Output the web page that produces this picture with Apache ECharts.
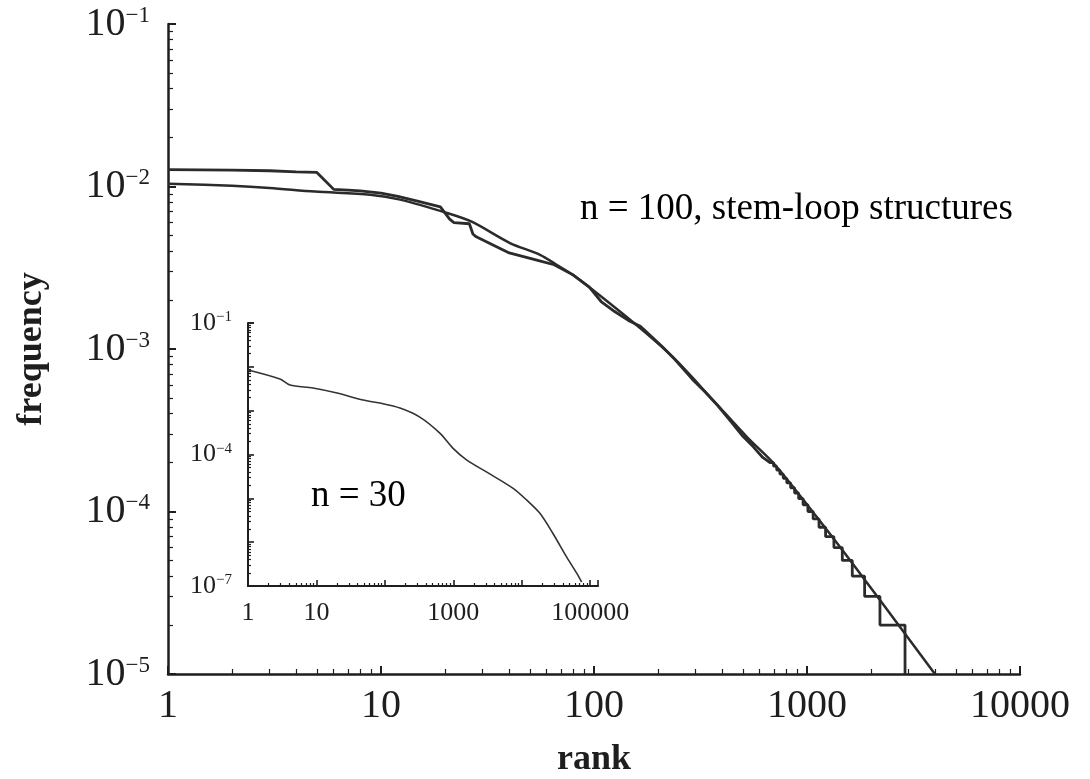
<!DOCTYPE html>
<html><head><meta charset="utf-8">
<script src="https://cdn.jsdelivr.net/npm/echarts@6/dist/echarts.min.js"></script>
<style>html,body{margin:0;padding:0;background:#fff}#c{width:1090px;height:779px}</style>
</head><body><div id="c"></div>
<script>
// ---------- data ----------
const mainXLabels = [1, 10, 100, 1000, 10000];
const mainYExponents = [-5, -4, -3, -2, -1];
const insetXLabels = [1, 10, 1000, 100000];
const insetYExponents = [-7, -4, -1];

const mainAnnotation = 'n = 100, stem-loop structures';
const insetAnnotation = 'n = 30';
const xName = 'rank';
const yName = 'frequency';

// smooth fitted curve (n = 100)
const fitRank = [1, 2, 3, 4.9, 8.9, 12.3, 20.4, 26.8, 40.3, 55.8, 67, 79.7, 103, 164, 235, 362, 523, 692, 859, 1429, 2200, 3860, 4000];
const fitFreq = [0.0104, 0.0101, 0.0098, 0.0093, 0.0089, 0.0083, 0.00687, 0.00605, 0.00449, 0.0038, 0.00329, 0.00285, 0.00221, 0.00135, 8.9e-4, 4.85e-4, 2.87e-4, 2.0e-4, 1.42e-4, 6.05e-5, 2.85e-5, 1.06e-5, 1.0e-5];

// measured rank-frequency data (n = 100)
const dataRank = [1, 2, 3, 4, 5, 6, 7, 8, 10, 12, 15, 19, 21, 22, 26, 27, 28,
  40, 55, 65, 80, 95, 108, 125, 145, 165, 185, 210, 240, 290, 330, 380, 430, 500, 560, 620, 670,
  696, 697, 720, 721, 745, 746, 773, 774, 803, 804, 837, 838, 874, 875, 913, 914, 958, 959,
  1009, 1010, 1068, 1069, 1138, 1139, 1222, 1223, 1337, 1338, 1464, 1465, 1631, 1632,
  1864, 1865, 2200, 2201, 2885, 2886];
const dataFreq = [0.0127, 0.0126, 0.0125, 0.0123, 0.0122, 0.0096, 0.0095, 0.0094, 0.0091, 0.0087, 0.0081, 0.0075, 0.0063, 0.0060, 0.0059, 0.0051, 0.0049,
  0.0039, 0.0035, 0.0033, 0.00285, 0.0024, 0.00196, 0.0017, 0.0015, 0.00138, 0.0012, 0.00103, 8.6e-4, 6.5e-4, 5.5e-4, 4.5e-4, 3.7e-4, 2.9e-4, 2.5e-4, 2.15e-4, 2.0e-4,
  2.0e-4, 1.9e-4, 1.9e-4, 1.8e-4, 1.8e-4, 1.7e-4, 1.7e-4, 1.6e-4, 1.6e-4, 1.5e-4, 1.5e-4, 1.4e-4, 1.4e-4, 1.3e-4, 1.3e-4, 1.2e-4, 1.2e-4, 1.1e-4,
  1.1e-4, 1.0e-4, 1.0e-4, 9e-5, 9e-5, 8e-5, 8e-5, 7e-5, 7e-5, 6e-5, 6e-5, 5e-5, 5e-5, 4e-5,
  4e-5, 3e-5, 3e-5, 2e-5, 2e-5, 1e-5];

// inset curve (n = 30)
const insetRank = [1, 2.93, 4.1, 8.9, 20, 48, 84.5, 166, 324, 635, 984, 1575, 3085, 7390, 11830, 18300, 28400, 45400, 63500, 75100];
const insetFreq = [0.00845, 0.00526, 0.00384, 0.00328, 0.00252, 0.00175, 0.00149, 0.00115, 7.15e-4, 3.08e-4, 1.4e-4, 7.45e-5, 3.96e-5, 1.71e-5, 9.1e-6, 4.6e-6, 1.6e-6, 4.55e-7, 1.96e-7, 1.22e-7];

// ---------- chart ----------
const SERIF = '"Liberation Serif", "DejaVu Serif", serif';
const INK = '#1e1e1e';
const zip = (a, b) => a.map((v, i) => [v, b[i]]);
const isPow = v => Math.abs(Math.log10(v) - Math.round(Math.log10(v))) < 1e-6;

function powFormatter(list) {
  return function (v) {
    if (!isPow(v)) return '';
    const e = Math.round(Math.log10(v));
    if (list.indexOf(e) < 0) return '';
    return '{b|10}{s|\u2212' + Math.abs(e) + '}';
  };
}
function numFormatter(list) {
  return function (v) {
    if (!isPow(v)) return '';
    const r = Math.round(v);
    return list.indexOf(r) >= 0 ? String(r) : '';
  };
}
function richPow(big, small) {
  return {
    b: { fontFamily: SERIF, fontSize: big, color: INK, verticalAlign: 'bottom' },
    s: { fontFamily: SERIF, fontSize: small, color: INK, verticalAlign: 'top' }
  };
}
function axisCommon(lw, tickLen, minorLen) {
  return {
    axisLine: { show: true, onZero: false, lineStyle: { color: INK, width: lw } },
    axisTick: { show: true, inside: true, length: tickLen, lineStyle: { color: INK, width: lw * 0.8 } },
    minorTick: { show: true, splitNumber: 9, length: minorLen, lineStyle: { color: INK, width: 1.2 } },
    splitLine: { show: false },
    minorSplitLine: { show: false }
  };
}

const chart = echarts.init(document.getElementById('c'), null, { renderer: 'canvas' });
chart.setOption({
  animation: false,
  backgroundColor: '#fff',
  grid: [
    { left: 168, top: 24, right: 70, bottom: 105, containLabel: false, outerBoundsMode: 'none' },
    { left: 248, top: 323, width: 350, height: 263, containLabel: false, outerBoundsMode: 'none' }
  ],
  xAxis: [
    Object.assign({
      type: 'log', logBase: 10, gridIndex: 0, min: 1, max: 10000,
      axisLabel: { formatter: numFormatter(mainXLabels), fontFamily: SERIF, fontSize: 40, color: INK, margin: 12 },
      name: xName, nameLocation: 'middle', nameGap: 68,
      nameTextStyle: { fontFamily: SERIF, fontSize: 36, fontWeight: 'bold', color: INK }
    }, axisCommon(2.5, 8, 5)),
    Object.assign({
      type: 'log', logBase: 10, gridIndex: 1, min: 1, max: 130000,
      axisLabel: { formatter: numFormatter(insetXLabels), fontFamily: SERIF, fontSize: 26, color: INK, margin: 14 }
    }, axisCommon(2, 6, 3))
  ],
  yAxis: [
    Object.assign({
      type: 'log', logBase: 10, gridIndex: 0, min: 1e-5, max: 1e-1,
      axisLabel: { formatter: powFormatter(mainYExponents), margin: 18, rich: richPow(40, 23) },
      name: yName, nameLocation: 'middle', nameRotate: 90, nameGap: 118,
      nameTextStyle: { fontFamily: SERIF, fontSize: 36, fontWeight: 'bold', color: INK }
    }, axisCommon(2.5, 8, 5)),
    Object.assign({
      type: 'log', logBase: 10, gridIndex: 1, min: 1e-7, max: 1e-1,
      axisLabel: { formatter: powFormatter(insetYExponents), margin: 16, rich: richPow(26, 15) }
    }, axisCommon(2, 6, 3))
  ],
  series: [
    { type: 'line', xAxisIndex: 0, yAxisIndex: 0, data: zip(fitRank, fitFreq), showSymbol: false, smooth: 0.3,
      lineStyle: { color: '#2b2b2b', width: 2.5 } },
    { type: 'line', xAxisIndex: 0, yAxisIndex: 0, data: zip(dataRank, dataFreq), showSymbol: false,
      lineStyle: { color: '#2b2b2b', width: 2.8 } },
    { type: 'line', xAxisIndex: 1, yAxisIndex: 1, data: zip(insetRank, insetFreq), showSymbol: false, smooth: 0.3,
      lineStyle: { color: '#333', width: 1.6 } }
  ],
  graphic: [
    { type: 'text', x: 580, y: 209, style: { text: mainAnnotation, font: '37px ' + SERIF, fill: '#000', verticalAlign: 'middle' } },
    { type: 'text', x: 311, y: 496, style: { text: insetAnnotation, font: '37px ' + SERIF, fill: '#000', verticalAlign: 'middle' } }
  ]
});
</script>
</body></html>
